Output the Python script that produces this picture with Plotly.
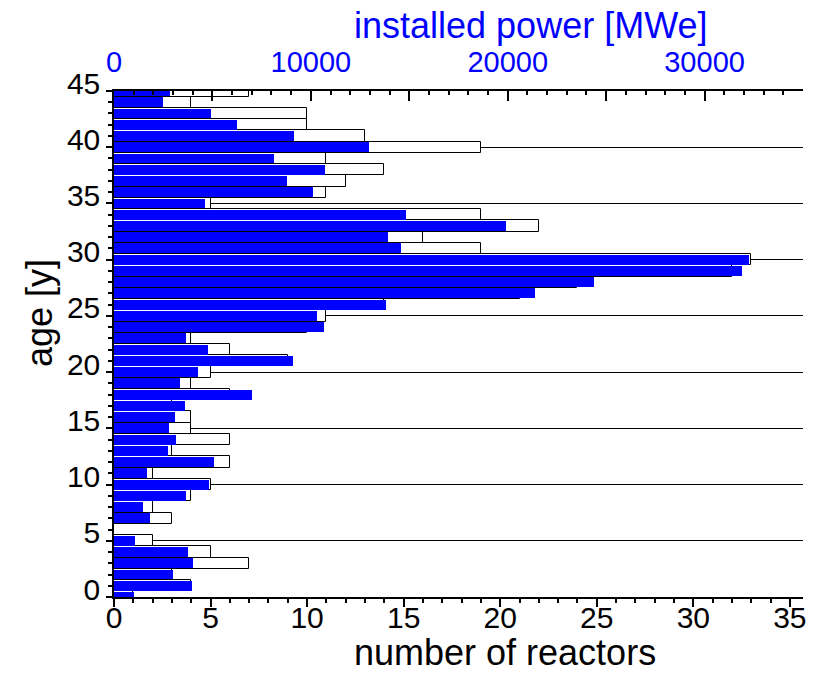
import plotly.graph_objects as go

# age of reactors (years)
ages = list(range(0, 46))
# number of reactors per age (bottom axis)
reactors = [1, 4, 3, 7, 5, 2, 0, 3, 2, 4,
            5, 2, 6, 3, 6, 4, 4, 3, 6, 4,
            5, 9, 6, 4, 10, 11, 14, 21, 24, 32,
            33, 19, 16, 22, 19, 5, 11, 12, 14, 11,
            19, 13, 10, 10, 4, 7]
# installed power per age in MWe (top axis)
power_mwe = [1000, 3950, 2980, 4030, 3780, 1070, 0, 1830, 1490, 3660,
             4850, 1660, 5100, 2760, 3150, 2810, 3100, 3630, 7030, 3360,
             4250, 9070, 4800, 3660, 10680, 10300, 13830, 21400, 24400, 31910,
             32250, 14590, 13910, 19900, 14850, 4630, 10100, 8810, 10740, 8150,
             12930, 9150, 6270, 4920, 2510, 2850]

y_ticks = [0, 5, 10, 15, 20, 25, 30, 35, 40, 45]
x_ticks = [0, 5, 10, 15, 20, 25, 30, 35]
top_ticks = [0, 5000, 10000, 15000, 20000, 25000, 30000, 35000]
top_labels = ["0", "", "10000", "", "20000", "", "30000", ""]

FONT = "Liberation Sans, Arial, sans-serif"
BLUE = "#0000ff"

fig = go.Figure()
fig.add_trace(go.Bar(
    x=reactors, y=ages, orientation="h", xaxis="x", yaxis="y",
    width=1, marker=dict(color="white", line=dict(color="black", width=1)),
    showlegend=False, hoverinfo="x+y"))
fig.add_trace(go.Bar(
    x=power_mwe, y=ages, orientation="h", xaxis="x2", yaxis="y",
    width=0.88, marker=dict(color=BLUE, line=dict(width=0)),
    showlegend=False, hoverinfo="x+y"))

fig.update_layout(
    width=825, height=673,
    margin=dict(l=114, r=22, t=91, b=76),
    paper_bgcolor="white", plot_bgcolor="white",
    barmode="overlay", bargap=0,
    font=dict(family=FONT, color="black"),
    xaxis=dict(
        range=[0, 35.68], tickvals=x_ticks, automargin=False,
        showline=True, linecolor="black", linewidth=1.5,
        ticks="outside", ticklen=8, tickwidth=1.5, tickcolor="black",
        minor=dict(dtick=1, ticks="outside", ticklen=4, tickwidth=1.5, tickcolor="black"),
        showgrid=False, zeroline=False,
        tickfont=dict(size=30, color="black"),
        ticklabelstandoff=-15,
    ),
    xaxis2=dict(
        range=[0, 35000], overlaying="x", side="top", automargin=False,
        tickmode="array", tickvals=top_ticks, ticktext=top_labels,
        showline=True, linecolor="black", linewidth=1.5,
        ticks="inside", ticklen=10, tickwidth=1.5, tickcolor="black",
        minor=dict(dtick=1000, ticks="inside", ticklen=4, tickwidth=1.5, tickcolor="black"),
        showgrid=False, zeroline=False,
        tickfont=dict(size=29, color=BLUE),
        ticklabelstandoff=6,
    ),
    yaxis=dict(
        range=[0, 45], tickvals=y_ticks, automargin=False,
        showline=True, linecolor="black", linewidth=1.5,
        ticks="outside", ticklen=6, tickwidth=1.5, tickcolor="black",
        minor=dict(dtick=1, ticks="outside", ticklen=4, tickwidth=1.5, tickcolor="black",
                   showgrid=False),
        showgrid=True, gridcolor="black", gridwidth=1,
        zeroline=False,
        tickfont=dict(size=30, color="black"),
        ticklabelshift=-8,
    ),
    annotations=[
        dict(text="number of reactors", xref="paper", yref="paper",
             x=0.567, y=-0.109, xanchor="center", yanchor="middle",
             showarrow=False, font=dict(size=36, color="black")),
        dict(text="installed power [MWe]", xref="paper", yref="paper",
             x=0.605, y=1.13, xanchor="center", yanchor="middle",
             showarrow=False, font=dict(size=36, color=BLUE)),
        dict(text="age [y]", xref="paper", yref="paper", textangle=-90,
             x=-0.109, y=0.561, xanchor="center", yanchor="middle",
             showarrow=False, font=dict(size=36, color="black")),
    ],
)

fig.write_html("out.html")
